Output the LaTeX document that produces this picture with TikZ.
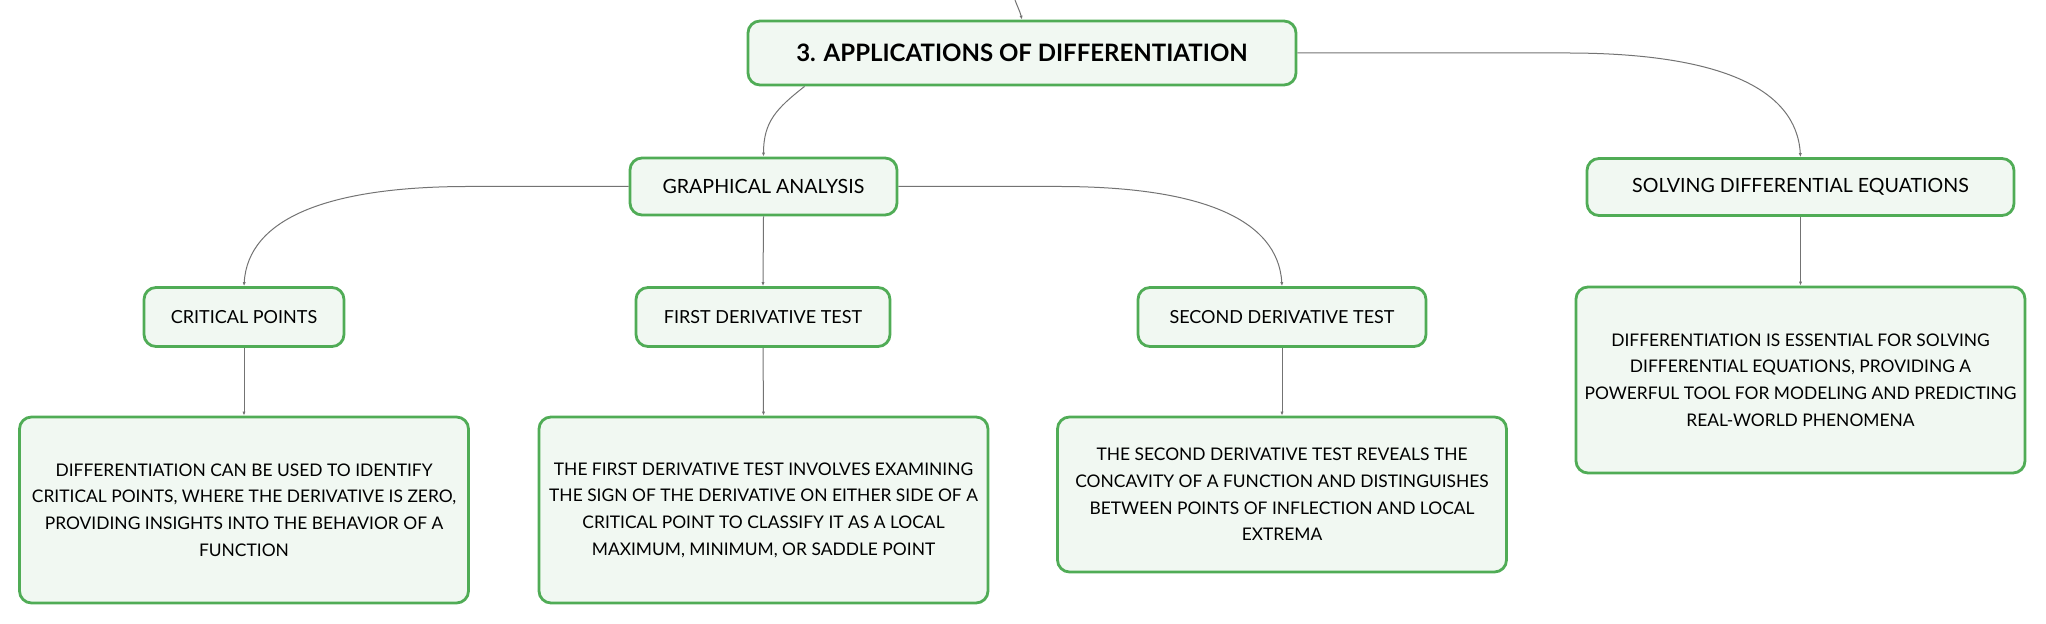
\documentclass[tikz,border=0pt]{standalone}
\usepackage{fontspec}
\setmainfont{Lato}
\usetikzlibrary{arrows.meta}

\definecolor{boxgreen}{RGB}{80,172,86}
\definecolor{boxfill}{RGB}{241,248,242}
\definecolor{linkgray}{RGB}{115,115,115}

\begin{document}
\begin{tikzpicture}[x=0.5pt,y=-0.5pt,
  box/.style={draw=boxgreen,line width=1.4pt,fill=boxfill,rounded corners=6pt,
    align=center,inner sep=0pt,text=black},
  rootbox/.style={box,minimum width=274pt,minimum height=32pt,
    font=\bfseries\fontsize{12}{14}\selectfont},
  topicbox/.style={box,minimum height=28.5pt,font=\fontsize{9.8}{12}\selectfont},
  subbox/.style={box,minimum height=29.5pt,font=\fontsize{9}{11}\selectfont},
  notebox/.style={box,minimum width=224.5pt,font=\fontsize{8.7}{13.3}\selectfont},
  link/.style={draw=linkgray,line width=0.5pt,-{Latex[length=2pt,width=1.6pt]}}]
\useasboundingbox (0,0) rectangle (2046,624);

% main topic
\coordinate (up) at (1015,0);
\node[rootbox] (root) at (1022,53) {3. APPLICATIONS OF DIFFERENTIATION};

% first level
\node[topicbox,minimum width=133.5pt] (graph) at (763.5,186.5) {GRAPHICAL ANALYSIS};
\node[topicbox,minimum width=213.5pt] (solve) at (1800.5,187) {SOLVING DIFFERENTIAL EQUATIONS};

% second level
\node[subbox,minimum width=100pt] (crit) at (244,317) {CRITICAL POINTS};
\node[subbox,minimum width=127pt] (first) at (763,317) {FIRST DERIVATIVE TEST};
\node[subbox,minimum width=144pt] (second) at (1282,317) {SECOND DERIVATIVE TEST};

% notes
\node[notebox,minimum height=93pt] (critnote) at (244,510)
  {DIFFERENTIATION CAN BE USED TO IDENTIFY\\
   CRITICAL POINTS, WHERE THE DERIVATIVE IS ZERO,\\
   PROVIDING INSIGHTS INTO THE BEHAVIOR OF A\\
   FUNCTION};
\node[notebox,minimum height=93pt] (firstnote) at (763.5,510)
  {THE FIRST DERIVATIVE TEST INVOLVES EXAMINING\\
   THE SIGN OF THE DERIVATIVE ON EITHER SIDE OF A\\
   CRITICAL POINT TO CLASSIFY IT AS A LOCAL\\
   MAXIMUM, MINIMUM, OR SADDLE POINT};
\node[notebox,minimum height=77.5pt] (secondnote) at (1282,494.5)
  {THE SECOND DERIVATIVE TEST REVEALS THE\\
   CONCAVITY OF A FUNCTION AND DISTINGUISHES\\
   BETWEEN POINTS OF INFLECTION AND LOCAL\\
   EXTREMA};
\node[notebox,minimum height=93pt] (solvenote) at (1800.5,380)
  {DIFFERENTIATION IS ESSENTIAL FOR SOLVING\\
   DIFFERENTIAL EQUATIONS, PROVIDING A\\
   POWERFUL TOOL FOR MODELING AND PREDICTING\\
   REAL-WORLD PHENOMENA};

% connectors
\draw[link] (up) .. controls +(3,8) and +(-2,-8) .. (root.north);
\draw[link] ([xshift=29pt]root.south west) .. controls +(-28,22) and +(0,-35) .. (graph.north);
\draw[link] (root.east) -- ++(269,0) .. controls +(150,0) and +(-4,-70) .. (solve.north);
\draw[link] (graph.west) -- ++(-160,0) .. controls +(-140,0) and +(4,-68) .. (crit.north);
\draw[link] (graph.south) -- (first.north);
\draw[link] (graph.east) -- ++(160,0) .. controls +(140,0) and +(-4,-68) .. (second.north);
\draw[link] (crit.south) -- (critnote.north);
\draw[link] (first.south) -- (firstnote.north);
\draw[link] (second.south) -- (secondnote.north);
\draw[link] (solve.south) -- (solvenote.north);
\end{tikzpicture}
\end{document}
